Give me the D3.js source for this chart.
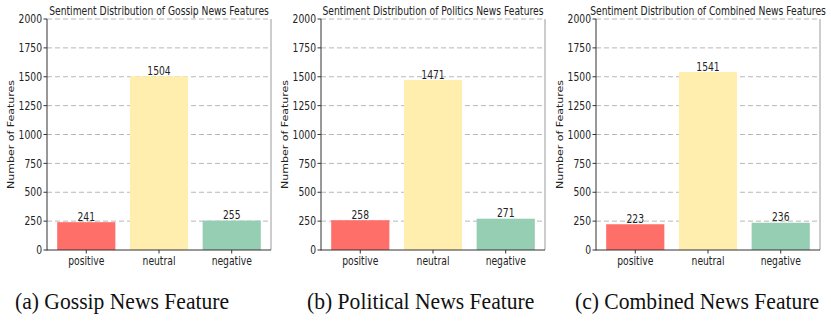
<!DOCTYPE html>
<html>
<head>
<meta charset="utf-8">
<script src="https://cdn.jsdelivr.net/npm/d3@7"></script>
<style>
  html, body { margin: 0; padding: 0; background: #fff; }
  svg { display: block; }
</style>
</head>
<body>
<svg id="chart" width="831" height="326"></svg>
<script>
// Sentiment categories and per-dataset feature counts
const categories = ["positive", "neutral", "negative"];
const gossipCounts = [241, 1504, 255];
const politicsCounts = [258, 1471, 271];
const combinedCounts = [223, 1541, 236];
const yTicks = [0, 250, 500, 750, 1000, 1250, 1500, 1750, 2000];
const panelTitles = [
  "Sentiment Distribution of Gossip News Features",
  "Sentiment Distribution of Politics News Features",
  "Sentiment Distribution of Combined News Features"
];
const captions = ["(a) Gossip News Feature", "(b) Political News Feature", "(c) Combined News Feature"];
const barColors = ["#ff6f69", "#ffeead", "#96ceb4"];

const panels = [gossipCounts, politicsCounts, combinedCounts];
const panelLeft = [47, 321, 596];
const captionX = [15, 307, 575];
const plotW = 224, plotTop = 19, plotBottom = 250;
const SX = 0.8;             // horizontal squeeze applied to chart text
const font = "'DejaVu Sans', sans-serif";

const svg = d3.select("#chart");

// Text helper: places a squeezed label at (x, y)
function label(g, x, y, txt, opts = {}) {
  const rot = opts.rotate ? ` rotate(${opts.rotate})` : "";
  const sx = opts.sx || SX;
  return g.append("text")
    .attr("transform", `translate(${x},${y}) scale(${sx},1)${rot}`)
    .attr("text-anchor", opts.anchor || "middle")
    .attr("dy", opts.dy || 0)
    .style("font-family", opts.family || font)
    .style("font-size", (opts.size || 11.5) + "px")
    .attr("fill", opts.fill || "#222")
    .text(txt);
}

const y = d3.scaleLinear().domain([0, 2000]).range([plotBottom, plotTop]);

panels.forEach((counts, i) => {
  const x0 = panelLeft[i];
  const g = svg.append("g");

  // matplotlib-style category positions with margins
  const xs = d3.scaleLinear().domain([-0.54, 2.54]).range([x0, x0 + plotW]);
  const bw = xs(0.4) - xs(-0.4);

  // dashed horizontal grid
  g.selectAll("line.grid").data(yTicks.filter(t => t > 0)).join("line")
    .attr("x1", x0).attr("x2", x0 + plotW)
    .attr("y1", d => y(d)).attr("y2", d => y(d))
    .attr("stroke", "#b8b8b8").attr("stroke-width", 1)
    .attr("stroke-dasharray", "5,3");

  // bars
  g.selectAll("rect.bar").data(counts).join("rect")
    .attr("x", (d, j) => xs(j) - bw / 2)
    .attr("width", bw)
    .attr("y", d => y(d))
    .attr("height", d => y(0) - y(d))
    .attr("fill", (d, j) => barColors[j]);

  // value labels
  counts.forEach((d, j) => label(g, xs(j), y(d) - 1.5, d));

  // spines
  g.append("line").attr("x1", x0 + plotW).attr("x2", x0 + plotW)
    .attr("y1", plotTop).attr("y2", plotBottom).attr("stroke", "#9a9a9a");
  g.append("line").attr("x1", x0).attr("x2", x0)
    .attr("y1", plotTop).attr("y2", plotBottom + 0.5).attr("stroke", "#333");
  g.append("line").attr("x1", x0).attr("x2", x0 + plotW)
    .attr("y1", plotBottom).attr("y2", plotBottom).attr("stroke", "#333");

  // y ticks
  yTicks.forEach(t => {
    g.append("line").attr("x1", x0 - 3.5).attr("x2", x0)
      .attr("y1", y(t)).attr("y2", y(t)).attr("stroke", "#333");
    label(g, x0 - 5, y(t), t, { anchor: "end", dy: "0.36em" });
  });

  // x ticks and category labels
  categories.forEach((c, j) => {
    g.append("line").attr("x1", xs(j)).attr("x2", xs(j))
      .attr("y1", plotBottom).attr("y2", plotBottom + 3.5).attr("stroke", "#333");
    label(g, xs(j), 265, c);
  });

  // y axis title
  label(g, x0 - 36, (plotTop + plotBottom) / 2, "Number of Features",
    { rotate: -90, dy: "0.36em", size: 11 });

  // panel title
  label(g, x0 + plotW / 2, 15, panelTitles[i], { size: 11.5, sx: 0.8 });

  // caption
  label(g, captionX[i], 309, captions[i], {
    anchor: "start", sx: 0.9, size: 24, fill: "#111",
    family: "'Liberation Serif', 'Times New Roman', serif"
  });
});
</script>
</body>
</html>
